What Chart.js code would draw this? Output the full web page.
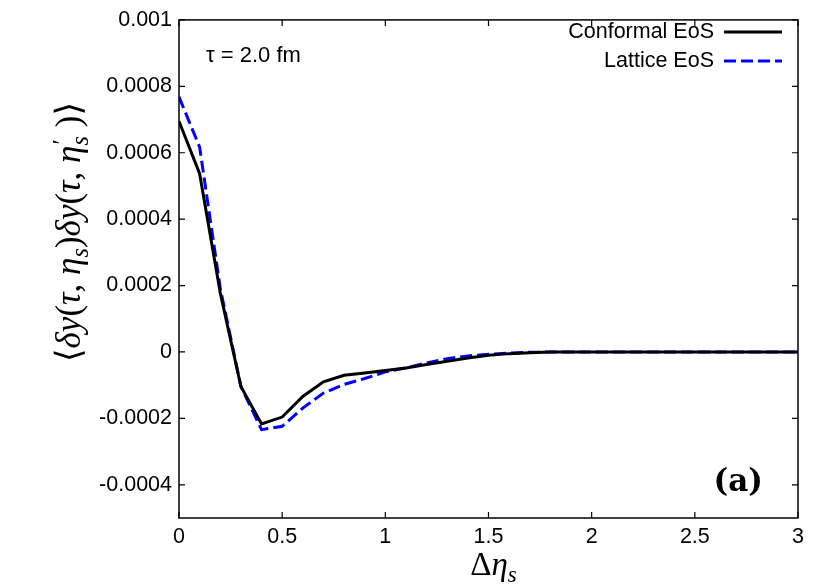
<!DOCTYPE html>
<html>
<head>
<meta charset="utf-8">
<script src="https://cdn.jsdelivr.net/npm/chart.js@4.4.0/dist/chart.umd.min.js"></script>
<style>
html,body{margin:0;padding:0;background:#fff;}
#wrap{width:830px;height:587px;position:relative;}
</style>
</head>
<body>
<div id="wrap"><canvas id="c" width="830" height="587"></canvas></div>
<script>
// ---- data ----
const etaValues = [0,0.1,0.2,0.3,0.4,0.5,0.6,0.7,0.8,0.9,1.0,1.1,1.2,1.3,1.4,1.5,1.6,1.7,1.8,1.9,2.0,2.1,2.2,2.3,2.4,2.5,2.6,2.7,2.8,2.9,3.0];
const conformalValues = [0.000695,0.000537,0.000178,-0.000104,-0.000217,-0.000196,-0.000134,-0.00009,-0.00007,-0.000063,-0.000056,-0.000048,-0.000038,-0.000028,-0.000018,-0.00001,-0.000005,-0.000002,0,0,0,0,0,0,0,0,0,0,0,0,0];
const latticeValues = [0.000768,0.000617,0.000192,-0.000104,-0.000234,-0.000224,-0.000169,-0.000124,-0.0000975,-0.00008,-0.00006,-0.000048,-0.000033,-0.00002,-0.000012,-0.000007,-0.000003,-0.000001,0,0,0,0,0,0,0,0,0,0,0,0,0];
const seriesNames = ["Conformal EoS","Lattice EoS"];
const xTickValues = [0,0.5,1,1.5,2,2.5,3];
const xTickLabels = ["0","0.5","1","1.5","2","2.5","3"];
const yTickValues = [-0.0004,-0.0002,0,0.0002,0.0004,0.0006,0.0008,0.001];
const yTickLabels = ["-0.0004","-0.0002","0","0.0002","0.0004","0.0006","0.0008","0.001"];
const annotationText = "τ = 2.0 fm";
const panelLabel = "(a)";

const toPts = (vals) => etaValues.map((x,i)=>({x:x,y:vals[i]}));
const SANS = "'Liberation Sans', Arial, sans-serif";
const SERIF = "'Liberation Serif', 'DejaVu Serif', serif";

function labelFor(values, labels, v){
  for(let i=0;i<values.length;i++){ if(Math.abs(values[i]-v)<1e-12) return labels[i]; }
  return '';
}

function drawRich(ctx, segs, size){
  const fontOf = (it, sz) => (it?'italic ':'') + sz + 'px ' + SERIF;
  const widths = segs.map(s=>{
    if(s.stack){
      ctx.font = fontOf(true, size*0.7);
      const w1 = ctx.measureText(s.sub).width;
      ctx.font = fontOf(false, size*0.7);
      const w2 = ctx.measureText(s.sup).width;
      return Math.max(w1, w2);
    }
    ctx.font = fontOf(s.it, s.sub ? size*0.7 : size);
    return ctx.measureText(s.t).width;
  });
  const total = widths.reduce((a,b)=>a+b,0);
  let x = -total/2;
  segs.forEach((s,i)=>{
    if(s.stack){
      ctx.font = fontOf(false, size*0.7);
      ctx.fillText(s.sup, x+1, -size*0.28);
      ctx.font = fontOf(true, size*0.7);
      ctx.fillText(s.sub, x, size*0.22);
    } else if(s.sub){
      ctx.font = fontOf(s.it, size*0.7);
      ctx.fillText(s.t, x, size*0.22);
    } else {
      ctx.font = fontOf(s.it, size);
      ctx.fillText(s.t, x, 0);
    }
    x += widths[i];
  });
}

const framePlugin = {
  id:'frame',
  afterDraw(chart){
    const ctx = chart.ctx, a = chart.chartArea;
    const xs = chart.scales.x, ys = chart.scales.y;
    ctx.save();
    ctx.strokeStyle = '#000';
    ctx.lineWidth = 1.5;
    ctx.strokeRect(a.left, a.top, a.right-a.left, a.bottom-a.top);
    ctx.lineWidth = 1.2;
    const tl = 6;
    ctx.beginPath();
    xTickValues.forEach(v=>{
      const px = xs.getPixelForValue(v);
      ctx.moveTo(px, a.bottom); ctx.lineTo(px, a.bottom-tl);
      ctx.moveTo(px, a.top); ctx.lineTo(px, a.top+tl);
    });
    yTickValues.forEach(v=>{
      const py = ys.getPixelForValue(v);
      ctx.moveTo(a.left, py); ctx.lineTo(a.left+tl, py);
      ctx.moveTo(a.right, py); ctx.lineTo(a.right-tl, py);
    });
    ctx.stroke();

    // annotation
    ctx.fillStyle = '#000';
    ctx.font = '22px ' + SANS;
    ctx.textAlign = 'left';
    ctx.textBaseline = 'middle';
    ctx.fillText(annotationText, a.left+27, 56);

    // panel label
    ctx.font = "bold 31px 'DejaVu Serif', serif";
    ctx.textAlign = 'right';
    ctx.fillText(panelLabel, a.right-35, 483);

    // legend
    ctx.font = '21.5px ' + SANS;
    ctx.textAlign = 'right';
    const ds = chart.data.datasets;
    const rows = [32, 61];
    ds.forEach((d,i)=>{
      ctx.fillStyle = '#000';
      ctx.fillText(d.label, a.right-84, rows[i]);
      ctx.strokeStyle = d.borderColor;
      ctx.lineWidth = d.borderWidth;
      ctx.setLineDash(d.borderDash || []);
      ctx.beginPath();
      ctx.moveTo(a.right-74, rows[i]);
      ctx.lineTo(a.right-16, rows[i]);
      ctx.stroke();
      ctx.setLineDash([]);
    });

    // x title
    ctx.fillStyle = '#000';
    ctx.textAlign = 'left';
    ctx.textBaseline = 'alphabetic';
    ctx.save();
    ctx.translate((a.left+a.right)/2 + 5, 575);
    drawRich(ctx, [{t:'Δ'},{t:'η',it:true},{t:'s',it:true,sub:true}], 33);
    ctx.restore();

    // y title
    ctx.save();
    ctx.translate(80, 232);
    ctx.rotate(-Math.PI/2);
    drawRich(ctx, [
      {t:'⟨'},{t:'δ',it:true},{t:'y',it:true},{t:'('},{t:'τ',it:true},{t:', '},{t:'η',it:true},{t:'s',it:true,sub:true},{t:')'},
      {t:'δ',it:true},{t:'y',it:true},{t:'('},{t:'τ',it:true},{t:', '},{t:'η',it:true},{stack:true,sup:'′',sub:'s'},{t:' )'},{t:'⟩'}
    ], 35);
    ctx.restore();
    ctx.restore();
  }
};

new Chart(document.getElementById('c'), {
  type:'line',
  data:{
    datasets:[
      {label:seriesNames[0], data:toPts(conformalValues), borderColor:'#000000', borderWidth:3, pointRadius:0, fill:false, tension:0},
      {label:seriesNames[1], data:toPts(latticeValues), borderColor:'#0000ff', borderWidth:3, borderDash:[12,5], pointRadius:0, fill:false, tension:0}
    ]
  },
  options:{
    responsive:false,
    animation:false,
    devicePixelRatio:1,
    layout:{padding:{top:15,right:32,left:0,bottom:0}},
    plugins:{legend:{display:false}, tooltip:{enabled:false}},
    scales:{
      x:{
        type:'linear', min:0, max:3,
        grid:{display:false, drawTicks:false}, border:{display:false},
        afterBuildTicks:(s)=>{ s.ticks = xTickValues.map(v=>({value:v})); },
        afterFit:(s)=>{ s.height = 69; },
        ticks:{color:'#000', padding:6, maxRotation:0, autoSkip:false, font:{family:SANS, size:21.5},
          callback:(v)=>labelFor(xTickValues,xTickLabels,v)}
      },
      y:{
        type:'linear', min:-0.0005, max:0.001,
        grid:{display:false, drawTicks:false}, border:{display:false},
        afterBuildTicks:(s)=>{ s.ticks = yTickValues.map(v=>({value:v})); },
        afterFit:(s)=>{ s.width = 179; },
        ticks:{color:'#000', padding:7, autoSkip:false, font:{family:SANS, size:21.5},
          callback:(v)=>labelFor(yTickValues,yTickLabels,v)}
      }
    }
  },
  plugins:[framePlugin]
});
</script>
</body>
</html>
